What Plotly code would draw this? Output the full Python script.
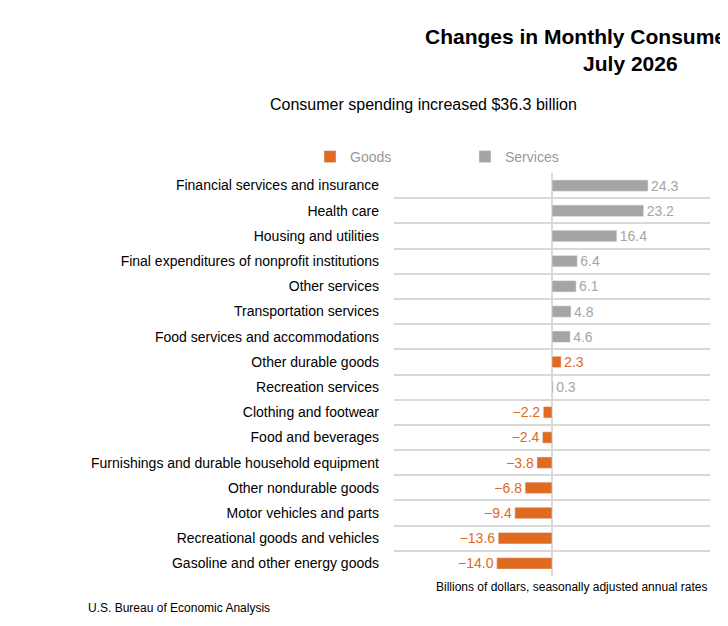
import plotly.graph_objects as go

categories = [
    "Financial services and insurance", "Health care", "Housing and utilities",
    "Final expenditures of nonprofit institutions", "Other services",
    "Transportation services", "Food services and accommodations",
    "Other durable goods", "Recreation services", "Clothing and footwear",
    "Food and beverages", "Furnishings and durable household equipment",
    "Other nondurable goods", "Motor vehicles and parts",
    "Recreational goods and vehicles", "Gasoline and other energy goods",
]
values = [24.3, 23.2, 16.4, 6.4, 6.1, 4.8, 4.6, 2.3, 0.3, -2.2, -2.4, -3.8, -6.8, -9.4, -13.6, -14.0]
kind = ["S", "S", "S", "S", "S", "S", "S", "G", "S", "G", "G", "G", "G", "G", "G", "G"]

GOODS = "#e06a1f"
SERV = "#a5a5a5"
n = len(categories)
ypos = [n - 1 - i for i in range(n)]
PW = 316  # plot width in px
L = 386

def fmt(v):
    return f"{v:.1f}".replace("-", "\u2212")

def px_x(p):
    return (p - L) / PW

fig = go.Figure()
for name, code, col in [("Goods", "G", GOODS), ("Services", "S", SERV)]:
    idx = [i for i in range(n) if kind[i] == code]
    fig.add_trace(go.Bar(
        name=name, orientation="h",
        x=[values[i] for i in idx], y=[ypos[i] for i in idx],
        marker_color=col, width=0.45,
        text=[fmt(values[i]) for i in idx], textposition="outside",
        constraintext="none", textangle=0,
        textfont=dict(color=col, size=14), cliponaxis=False,
    ))

fig.update_layout(
    width=728, height=626, plot_bgcolor="white", paper_bgcolor="white",
    font=dict(family="Liberation Sans, Arial", size=14, color="#222"),
    margin=dict(l=L, r=26, t=165, b=58),
    barmode="overlay", showlegend=True,
    legend=dict(orientation="h", x=px_x(302), xanchor="left", y=1.0, yanchor="bottom",
                yref="paper", entrywidth=110, itemwidth=30,
                font=dict(size=14, color="#999"), traceorder="normal"),
)
fig.add_annotation(text="<b>Changes in Monthly Consumer Spending<br>July 2026</b>",
                   xref="paper", yref="paper", x=px_x(415), y=1.0, yshift=150,
                   yanchor="top", showarrow=False, font=dict(size=21, color="black"))
fig.add_annotation(text="Consumer spending increased $36.3 billion", xref="paper", yref="paper",
                   x=px_x(415), y=1.0, yshift=79, showarrow=False,
                   font=dict(size=16, color="black"), xanchor="center")
fig.add_annotation(text="Billions of dollars, seasonally adjusted annual rates", xref="paper", yref="paper",
                   x=1.0, y=0, yshift=-20, showarrow=False, xanchor="right",
                   font=dict(size=12, color="black"))
fig.add_annotation(text="U.S. Bureau of Economic Analysis", xref="paper", yref="paper",
                   x=px_x(78), y=0, yshift=-41, showarrow=False, xanchor="left",
                   font=dict(size=12, color="black"))

fig.update_xaxes(range=[-40, 40], showgrid=False, showticklabels=False,
                 zeroline=True, zerolinecolor="#d9d9d9", zerolinewidth=2)
fig.update_yaxes(range=[-0.5, n - 0.5], tickvals=ypos, ticktext=categories,
                 showgrid=False, zeroline=False, ticks="", ticklabelstandoff=14,
                 tickfont=dict(size=14, color="black"),
                 minor=dict(tick0=0.5, dtick=1, showgrid=True, gridcolor="#d9d9d9", gridwidth=2))

fig.write_html("out.html")
